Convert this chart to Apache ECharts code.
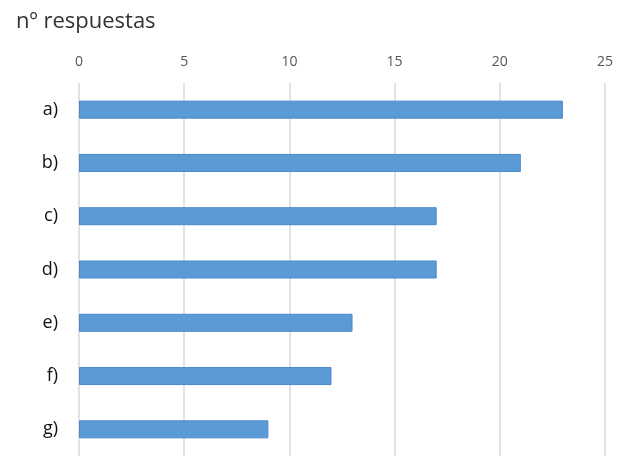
<!DOCTYPE html>
<html><head><meta charset="utf-8">
<script src="https://cdn.jsdelivr.net/npm/echarts@6/dist/echarts.min.js"></script>
<style>html,body{margin:0;padding:0;background:#fff}#c{width:633px;height:466px}</style>
</head><body><div id="c"></div>
<script>
const categories = ['a)', 'b)', 'c)', 'd)', 'e)', 'f)', 'g)'];
const values = [23, 21, 17, 17, 13, 12, 9];
const title = 'nº respuestas';

const chart = echarts.init(document.getElementById('c'));
chart.setOption({
  animation: false,
  title: { text: title, left: 11, top: 6, textStyle: { fontFamily: 'Open Sans', fontSize: 22, fontWeight: 'normal', color: '#333333' } },
  grid: { left: 79, right: 28, top: 83, bottom: 10 },
  xAxis: {
    type: 'value', position: 'top', min: 0, max: 25, interval: 5,
    axisLine: { show: false }, axisTick: { show: false },
    axisLabel: { fontFamily: 'Open Sans', fontSize: 14, color: '#555555', margin: 14 },
    splitLine: { lineStyle: { color: '#d9d9d9', width: 1.5 } }
  },
  yAxis: {
    type: 'category', data: categories, inverse: true,
    axisLine: { show: false }, axisTick: { show: false },
    axisLabel: { fontFamily: 'Open Sans', fontSize: 18, color: '#111111', margin: 21 }
  },
  series: [{
    type: 'bar', data: values, barWidth: 18,
    itemStyle: { color: '#5b9bd5', borderColor: '#4a88cc', borderWidth: 1 }
  }]
});
</script></body></html>
